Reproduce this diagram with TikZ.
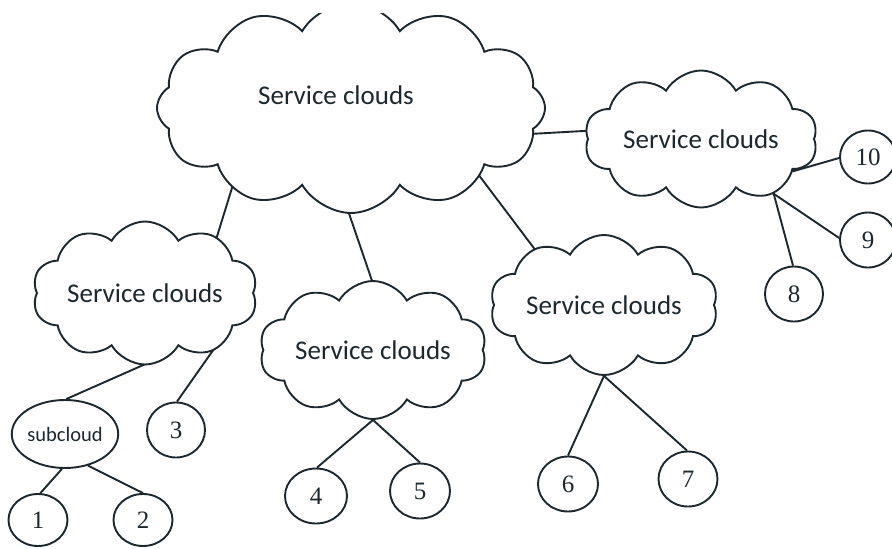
\documentclass[tikz,border=0pt]{standalone}
\usepackage{fontspec}
\newfontfamily\cloudfont{Carlito}
\newfontfamily\numfont{Liberation Serif}
\usetikzlibrary{shapes.symbols,shapes.geometric}
\pgfdeclarelayer{background}
\pgfsetlayers{background,main}
\definecolor{ink}{RGB}{28,40,46}
\begin{document}
\begin{tikzpicture}[x=1pt,y=-1pt,
  cloudbox/.style={cloud, cloud puffs=10, cloud puff arc=120, cloud ignores aspect,
    draw=ink, line width=1.9pt, fill=white, inner sep=0pt, text=ink,
    font=\cloudfont\fontsize{27}{30}\selectfont},
  cloudtext/.style={text=ink, font=\cloudfont\fontsize{27}{30}\selectfont},
  numbox/.style={ellipse, draw=ink, line width=1.9pt, fill=white, inner sep=0pt,
    text=ink, font=\numfont\fontsize{25}{27}\selectfont,
    minimum width=59pt, minimum height=55pt},
  link/.style={draw=ink, line width=1.9pt},
  into/.style={shorten <=-8pt}]
\useasboundingbox (0,0) rectangle (892,549);
\begin{pgfonlayer}{background}
\fill[white] (0,0) rectangle (892,549);
\end{pgfonlayer}

% clouds
\begin{scope}
\clip (0,13) rectangle (892,549);
\node[cloudbox, cloud puffs=12, minimum width=388pt, minimum height=210pt] (main) at (351,108) {};
\end{scope}
\node[cloudtext] (maintext) at (336,95) {Service clouds};
\node[cloudbox, minimum width=225pt, minimum height=143pt] (left) at (145,293) {Service clouds};
\node[cloudbox, minimum width=227pt, minimum height=138pt] (mid) at (373,350) {Service clouds};
\node[cloudbox, minimum width=228pt, minimum height=140pt] (rmid) at (604,305) {Service clouds};
\node[cloudbox, minimum width=233pt, minimum height=137pt] (right) at (701,139) {Service clouds};

% circles
\node[numbox, minimum width=76pt, minimum height=68pt,
  font=\cloudfont\fontsize{20.5}{22}\selectfont] (sub) at (65,434) {subcloud};
\node[numbox, minimum width=58pt] (n3) at (176,430) {3};
\node[numbox, minimum height=52pt] (n1) at (38,520) {1};
\node[numbox, minimum height=52pt] (n2) at (143,520) {2};
\node[numbox, minimum width=62pt] (n4) at (316,496) {4};
\node[numbox, minimum width=60pt] (n5) at (420,491) {5};
\node[numbox, minimum width=60pt] (n6) at (568,484) {6};
\node[numbox] (n7) at (688,479) {7};
\node[numbox, minimum width=58pt] (n8) at (794,294) {8};
\node[numbox, minimum width=56pt] (n9) at (868,240) {9};
\node[numbox, minimum width=56pt, minimum height=53pt] (n10) at (868,157) {10};

% connectors
\begin{pgfonlayer}{background}
\draw[link, into, shorten >=-8pt] (main.214) -- (left.38);
\draw[link, into, shorten >=-8pt] (main.269) -- (mid.91);
\draw[link, into, shorten >=-8pt] (main.332) -- (rmid.141);
\draw[link, into, shorten >=-8pt] (main.352) -- (right.176);
\draw[link, into] (left.268) -- (sub.88);
\draw[link, into] (left.319) -- (n3.88);
\draw[link] (sub.265) -- (n1.85);
\draw[link] (sub.306) -- (n2.90);
\draw[link, into] (mid.270) -- (n4.88);
\draw[link, into] (mid.270) -- (n5.90);
\draw[link, into] (rmid.270) -- (n6.90);
\draw[link, into] (rmid.270) -- (n7.92);
\draw[link, into] (right.343) -- (n10.182);
\draw[link, into] (right.323) -- (n8.92);
\draw[link, into] (right.323) -- (n9.176);
\end{pgfonlayer}
\end{tikzpicture}
\end{document}
